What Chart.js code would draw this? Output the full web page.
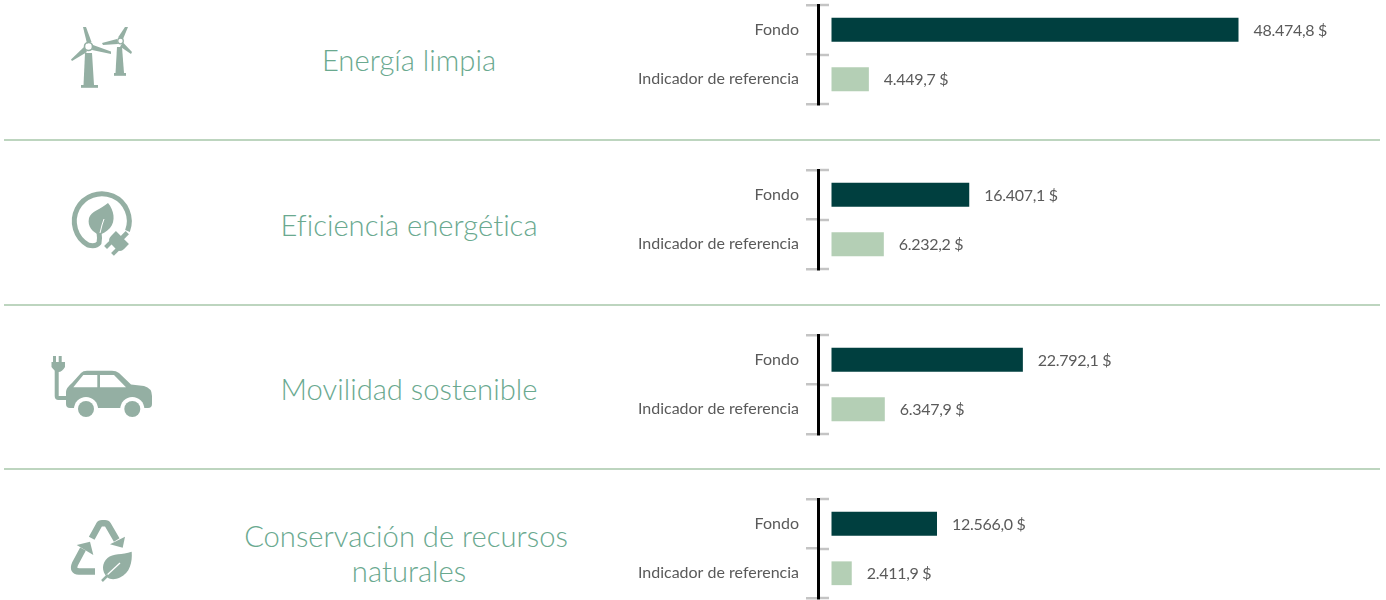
<!DOCTYPE html>
<html>
<head>
<meta charset="utf-8">
<script src="https://cdn.jsdelivr.net/npm/chart.js@4"></script>
<style>
html, body { margin: 0; padding: 0; background: #fff; overflow: hidden; }
body { position: relative; width: 1386px; height: 600px; font-family: Lato, sans-serif; }
.panel { position: absolute; left: 630px; width: 756px; height: 110px; }
.titulo { position: absolute; left: 209px; width: 400px; text-align: center; color: #6aa98f; font-weight: 300; font-size: 29.2px; line-height: 35px; font-variant-ligatures: none; }
.sep { position: absolute; left: 4px; width: 1376px; height: 2px; background: #bdd5bf; }
#iconos { position: absolute; left: 0; top: 0; }
</style>
</head>
<body>
<svg id="iconos" width="1386" height="600" fill="#94afa3">
  <!-- aerogeneradores -->
  <path d="M85 53L92 53L94 85L83.5 85Z"/><rect x="81" y="85" width="17" height="2.8"/>
  <path d="M83 27L86 27L91.5 42L87 43.5Z"/><path d="M93 45L111 51.5L111 54L92 50Z"/><path d="M84 47L71 59.5L72 61L87 52Z"/>
  <circle cx="88.5" cy="46.5" r="4" fill="none" stroke="#94afa3" stroke-width="1.6"/>
  <path d="M117 47L122 47L124 73L115.5 73Z"/><rect x="114" y="73" width="12" height="2.8"/>
  <path d="M125 27L128 27L123 39L118 37.5Z"/><path d="M102 43L117 39L118 44L103 45Z"/><path d="M123 42.5L132 52L131 54L120 46.5Z"/>
  <circle cx="120.5" cy="41" r="2.8" fill="none" stroke="#94afa3" stroke-width="1.3"/>
  <!-- hoja con enchufe -->
  <path d="M127.5 231A27.5 27.5 0 1 0 88 245Q96 247 99 243Q100 238 99 232" fill="none" stroke="#94afa3" stroke-width="5"/>
  <path d="M108 203C114 210 116 221 110 228C106 232 102 234 99 235C93 232 87 227 89 218C91 211 100 210 108 203Z"/>
  <path d="M100 233Q102 224 104 219" fill="none" stroke="#fff" stroke-width="1"/>
  <g transform="translate(120 240) rotate(45) scale(1.15)">
    <path d="M-8 -3L8 -3L8 3Q8 8 3 8L-3 8Q-8 8 -8 3Z"/><rect x="-2" y="-9" width="4" height="7"/>
    <rect x="-6" y="7" width="3.5" height="6.5"/><rect x="2.5" y="7" width="3.5" height="6.5"/>
  </g>
  <!-- coche electrico -->
  <path d="M66 392Q66 388 72 383L81 373Q83 370.7 87 370.7L112 370.7Q116 370.7 119 373L131 384.5L144 386Q152 388 152 396L152 404Q152 408 148 408L70 408Q66 408 66 404Z"/>
  <path d="M73.3 387.3L83.3 375L97.3 375L97.3 387.3Z M100 375L114 375L126 387.3L100 387.3Z" fill="#fff"/>
  <circle cx="86" cy="409" r="12" fill="#fff"/><circle cx="132.3" cy="409" r="12" fill="#fff"/>
  <circle cx="86" cy="409" r="8"/><circle cx="132.3" cy="409" r="8"/>
  <path d="M67 398L58.5 398Q56.7 398 56.7 396L56.7 370" fill="none" stroke="#94afa3" stroke-width="4"/>
  <path d="M51.5 362L65 362L65 367Q62 372 58.5 372Q55 372 51.5 367Z"/><rect x="53" y="356" width="3" height="6"/><rect x="58.7" y="356" width="3" height="6"/>
  <!-- reciclaje y hoja -->
  <path d="M91.7 538.3L99 525Q100 523.3 102 523.3L105 523.3Q107 523.3 108 525L116.7 540" fill="none" stroke="#94afa3" stroke-width="6.5"/>
  <path d="M125 536.7L122.7 547.7L110 544.3Z"/>
  <path d="M95 571.5L79 571.5Q72 571 75 564L83 549" fill="none" stroke="#94afa3" stroke-width="6.5"/>
  <path d="M76.7 545L90 541.7L93.3 555Z"/>
  <path d="M131.7 551.7C132.5 562 130 573 120 577.5C115 580 110 579.5 107.5 577.5C101 571 102 563 107.5 558C113 553 122 555 131.7 551.7Z"/>
  <path d="M106 576L120 563" fill="none" stroke="#fff" stroke-width="1.3"/>
  <path d="M102 581L108 575" fill="none" stroke="#94afa3" stroke-width="2.5"/>
</svg>

<div class="titulo" style="top:42px">Energía limpia</div>
<div class="titulo" style="top:207px">Eficiencia energética</div>
<div class="titulo" style="top:371px">Movilidad sostenible</div>
<div class="titulo" style="top:518px;left:206px">Conservación de recursos<br><span style="margin-left:6px">naturales</span></div>

<div class="sep" style="top:139px"></div>
<div class="sep" style="top:304px"></div>
<div class="sep" style="top:468px"></div>

<div class="panel" style="top:0px"><canvas id="c0" width="756" height="110"></canvas></div>
<div class="panel" style="top:165px"><canvas id="c1" width="756" height="110"></canvas></div>
<div class="panel" style="top:330px"><canvas id="c2" width="756" height="110"></canvas></div>
<div class="panel" style="top:494px"><canvas id="c3" width="756" height="106"></canvas></div>

<script>
const categorias = ['Fondo', 'Indicador de referencia'];
const energiaLimpia = [48474.8, 4449.7];
const eficiencia = [16407.1, 6232.2];
const movilidad = [22792.1, 6347.9];
const conservacion = [12566.0, 2411.9];
const colores = ['#003f3f', '#b4cfb5'];

const series = [energiaLimpia, eficiencia, movilidad, conservacion];

function formato(valor) {
    return valor.toLocaleString('de-DE', { minimumFractionDigits: 1, maximumFractionDigits: 1 }) + ' $';
}

// etiquetas de valor al final de cada barra y la parte derecha de las marcas del eje
const extras = {
    id: 'extras',
    afterDatasetsDraw(chart) {
        const ctx = chart.ctx;
        const area = chart.chartArea;
        ctx.save();
        ctx.strokeStyle = '#c4c4c4';
        ctx.lineWidth = 2.5;
        chart.scales.y.ticks.concat([0]).forEach((t, i) => {
            const y = Math.round(area.top + i * (area.bottom - area.top) / categorias.length);
            ctx.beginPath();
            ctx.moveTo(area.left + 2, y);
            ctx.lineTo(area.left + 11, y);
            ctx.stroke();
        });
        ctx.fillStyle = '#5a5a5a';
        ctx.font = '16px Lato';
        ctx.letterSpacing = '-0.3px';
        ctx.textBaseline = 'middle';
        chart.getDatasetMeta(0).data.forEach((barra, i) => {
            ctx.fillText(formato(chart.data.datasets[0].data[i]), barra.x + 15, barra.y + 1);
        });
        ctx.restore();
    }
};

series.forEach((valores, i) => {
    new Chart(document.getElementById('c' + i), {
        type: 'bar',
        data: {
            labels: categorias,
            datasets: [{
                data: valores,
                backgroundColor: colores,
                categoryPercentage: 1,
                barPercentage: 0.48
            }]
        },
        options: {
            indexAxis: 'y',
            responsive: false,
            animation: false,
            layout: { autoPadding: false, padding: { top: 5, bottom: i == 3 ? 2 : 6 } },
            plugins: { legend: { display: false }, tooltip: { enabled: false } },
            scales: {
                x: { display: false, min: -1608, max: 66042 },
                y: {
                    afterFit(scale) {
                        scale.width = 188;
                        scale.paddingTop = 0;
                        scale.paddingBottom = 0;
                    },
                    border: { color: '#000000', width: 3 },
                    grid: { drawOnChartArea: false, color: '#c4c4c4', lineWidth: 2.5, tickLength: 12 },
                    ticks: { color: '#5a5a5a', padding: 7, font: { family: 'Lato', size: 16 } }
                }
            }
        },
        plugins: [extras]
    });
});
</script>
</body>
</html>
